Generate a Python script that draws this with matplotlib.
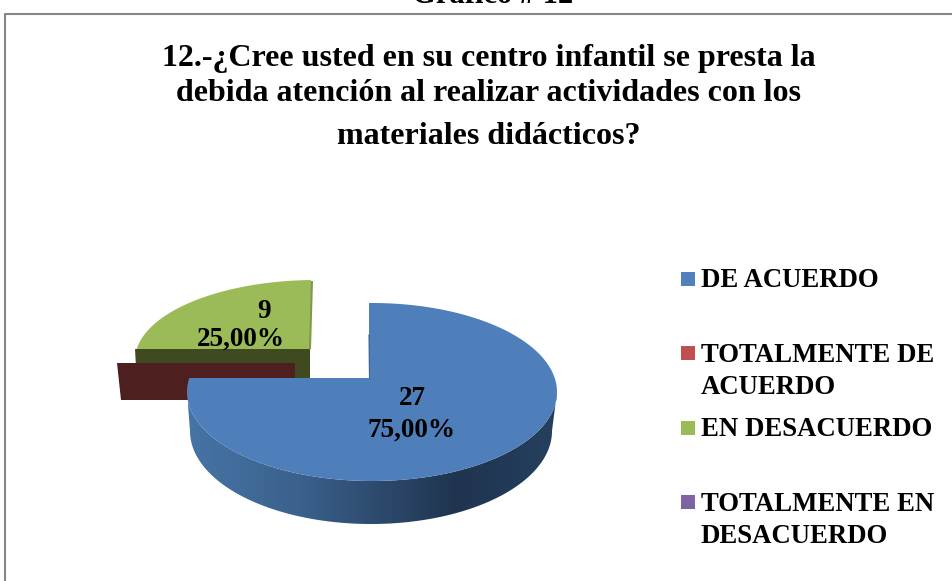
import numpy as np
import matplotlib
matplotlib.use('Agg')
import matplotlib.pyplot as plt
from matplotlib.colors import LinearSegmentedColormap
from matplotlib.patches import Polygon, Rectangle

# Data
categories = ['DE ACUERDO', 'TOTALMENTE DE\nACUERDO', 'EN DESACUERDO', 'TOTALMENTE EN\nDESACUERDO']
values = [27, 0, 9, 0]
title_lines = ['12.-¿Cree usted en su centro infantil se presta la',
               'debida atención al realizar actividades con los',
               'materiales didácticos?']
top_colors = ['#4f81bd', '#c0504d', '#9bbb59', '#8064a2']

plt.rcParams['font.family'] = ['Liberation Serif', 'DejaVu Serif']
plt.rcParams['font.weight'] = 'bold'


def rim(apex, center, rx, ry, a):
    # where a ray leaving the apex meets the (squashed) rim of the pie
    dx, dy = np.cos(a), -np.sin(a)
    px, py = (apex[0] - center[0]) / rx, (apex[1] - center[1]) / ry
    qx, qy = dx / rx, dy / ry
    A = qx**2 + qy**2
    B = 2 * (px * qx + py * qy)
    C = px**2 + py**2 - 1
    s = (-B + np.sqrt(B**2 - 4 * A * C)) / (2 * A)
    return apex[0] + s * dx, apex[1] + s * dy


def slice_points(apex, center, rx, ry, a0, a1):
    ang = np.linspace(a0, a1, 300)
    pts = [rim(apex, center, rx, ry, a) for a in ang]
    return [apex] + pts


# slice angles, clockwise from 12 o'clock
total = sum(values)
edges = 90 - np.cumsum([0] + values) / total * 360
edges = np.radians(edges)

fig = plt.figure(figsize=(9.53, 5.81), dpi=100)
ax = fig.add_axes([0, 0, 1, 1])
ax.set_xlim(0, 953)
ax.set_ylim(581, 0)
ax.axis('off')

# chart frame, cut by the page
ax.plot([5, 5, 953], [581, 13.5, 13.5], color='#868686', lw=1.5)
ax.text(493, 3, 'Gráfico # 12', fontsize=22, ha='center', va='baseline', color='black')

# title
for line, y in zip(title_lines, [66, 101, 144]):
    ax.text(488.5, y, line, fontsize=23, ha='center', va='baseline', color='black')

# green slice, pulled out up and left
g_apex = (311, 349)
g_center = (316, 360)
g_top = slice_points(g_apex, g_center, 181, 80, edges[2], edges[3])
ax.add_patch(Polygon(g_top, closed=True, fc=top_colors[2], ec='none', zorder=2))
ax.add_patch(Polygon([(311, 349), (313, 281), (311, 281), (309, 349)], closed=True, fc='#7d9847', ec='none', zorder=2))
ax.add_patch(Polygon([(135.5, 349), (310, 349), (310, 385), (137.5, 385)], closed=True, fc='#3f4a20', ec='none', zorder=3))

# red slice has no size, only its wall shows
r_apex = (295, 363)
r_x = r_apex[0] + 178 * np.cos(edges[1])
ax.add_patch(Polygon([(r_x, r_apex[1]), r_apex, (r_apex[0], 400), (r_x + 4, 400)], closed=True,
                     fc='#4e1f1f', ec='none', zorder=4))

# blue slice
b_apex = (369, 378)
b_center = (372, 392)
b_rx, b_ry = 185, 89
low_center = (371, 431)
low_rx, low_ry = 181, 93

t = np.radians(np.linspace(180, 360, 200))
wall = [(b_center[0] + b_rx * np.cos(a), b_center[1] - b_ry * np.sin(a)) for a in t]
wall += [(low_center[0] + low_rx * np.cos(a), low_center[1] - low_ry * np.sin(a)) for a in t[::-1]]
wall_patch = Polygon(wall, closed=True, fc='none', ec='none', zorder=5)
ax.add_patch(wall_patch)
shade = LinearSegmentedColormap.from_list('wall', [(0, '#4674a6'), (0.3, '#3b618c'), (0.73, '#1f344f'), (1, '#25405f')])
img = ax.imshow(np.linspace(0, 1, 256).reshape(1, -1), cmap=shade, extent=(188, 557, 581, 0), aspect='auto', zorder=5)
img.set_clip_path(wall_patch)
ax.set_xlim(0, 953)
ax.set_ylim(581, 0)

b_top = slice_points(b_apex, b_center, b_rx, b_ry, edges[0], edges[1])
ax.add_patch(Polygon(b_top, closed=True, fc='#4e7fbb', ec='none', zorder=6))
ax.plot([369, 369.5], [335, 378], color='#3a6391', lw=0.8, zorder=7)

# value labels
ax.text(264, 318, str(values[2]), fontsize=19.5, ha='center', va='baseline', zorder=8)
ax.text(240.5, 346, '25,00%', fontsize=19.5, ha='center', va='baseline', zorder=8)
ax.text(412, 405, str(values[0]), fontsize=19.5, ha='center', va='baseline', zorder=8)
ax.text(412, 437, '75,00%', fontsize=19.5, ha='center', va='baseline', zorder=8)

# legend
key_y = [272, 346, 421, 495]
text_y = [287, 362, 436, 511]
for name, c, ky, ty in zip(categories, top_colors, key_y, text_y):
    ax.add_patch(Rectangle((681, ky), 14, 14, fc=c, ec='none'))
    for i, part in enumerate(name.split('\n')):
        ax.text(701, ty + i * 32, part, fontsize=19.3, ha='left', va='baseline', color='black')

plt.savefig('out.png', dpi=100)
plt.close()
